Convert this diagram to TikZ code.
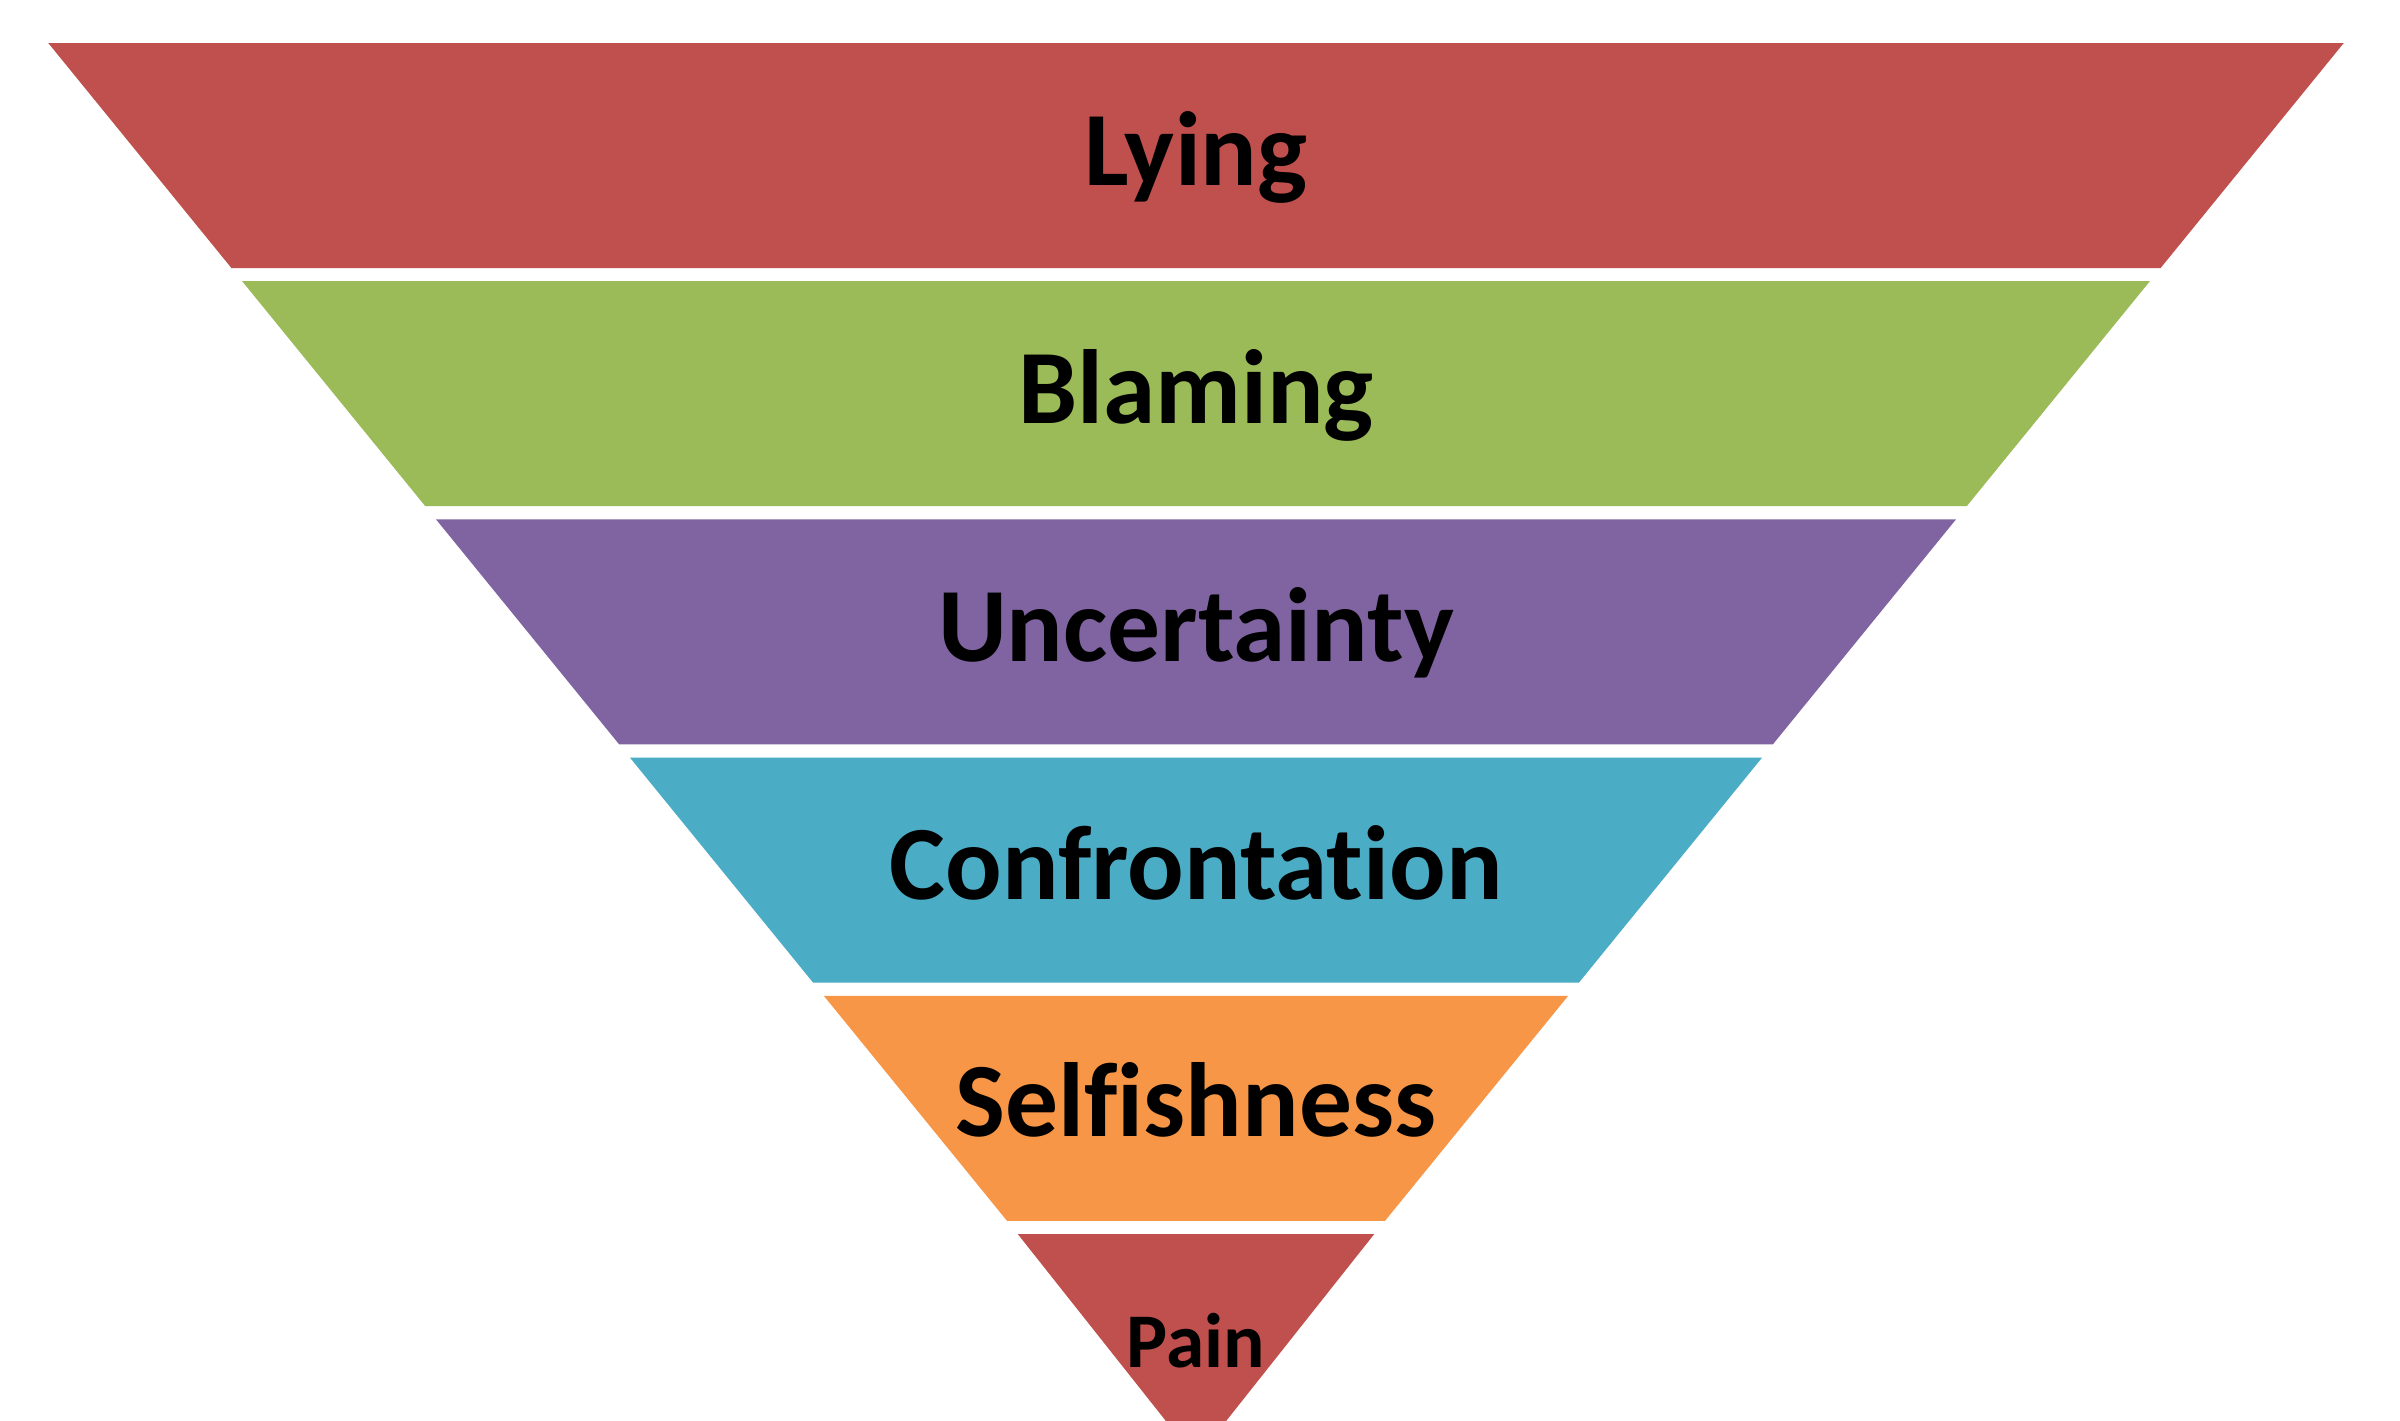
\documentclass[tikz,border=0pt]{standalone}
\usepackage{fontspec}
\setmainfont{Carlito}[Ligatures=NoCommon]
\definecolor{lyingred}{HTML}{C0504D}
\definecolor{blaminggreen}{HTML}{9BBB59}
\definecolor{uncertpurple}{HTML}{8064A2}
\definecolor{confrontblue}{HTML}{4BACC6}
\definecolor{selforange}{HTML}{F79646}
\begin{document}
\begin{tikzpicture}[x=0.01cm, y=-0.01cm, line join=round, line cap=round]
	\def\cx{1196} \def\ay{1453} \def\k{0.814} % apex and half slope
	\def\ytop{43} \def\h{225} \def\p{238.2} % bands
	
	\useasboundingbox (0,0) rectangle (2400,1420);
	\clip (0,0) rectangle (2400,1420);
	\fill[white] (0,0) rectangle (2400,1420);
	
	\foreach \i/\col/\nm/\txt/\fs/\bl in {0/lyingred/lying/Lying/30/142, 1/blaminggreen/blaming/Blaming/30/142, 2/uncertpurple/uncertainty/Uncertainty/30/142, 3/confrontblue/confrontation/Confrontation/30/142, 4/selforange/selfishness/Selfishness/30/141, 5/lyingred/pain/Pain/22/133}{
		\pgfmathsetmacro\ya{\ytop+\i*\p}
		\pgfmathsetmacro\yb{\ya+\h}
		\pgfmathsetmacro\wa{\k*(\ay-\ya)}
		\pgfmathsetmacro\wb{max(\k*(\ay-\yb),0)}
		\fill[\col] (\cx-\wa,\ya) -- (\cx+\wa,\ya) -- (\cx+\wb,\yb) -- (\cx-\wb,\yb) -- cycle;
		\node[anchor=base, inner sep=0pt, font=\fontsize{\fs}{\fs}\selectfont\bfseries] (\nm) at (\cx,\ya+\bl) {\txt};
	}
\end{tikzpicture}
\end{document}
